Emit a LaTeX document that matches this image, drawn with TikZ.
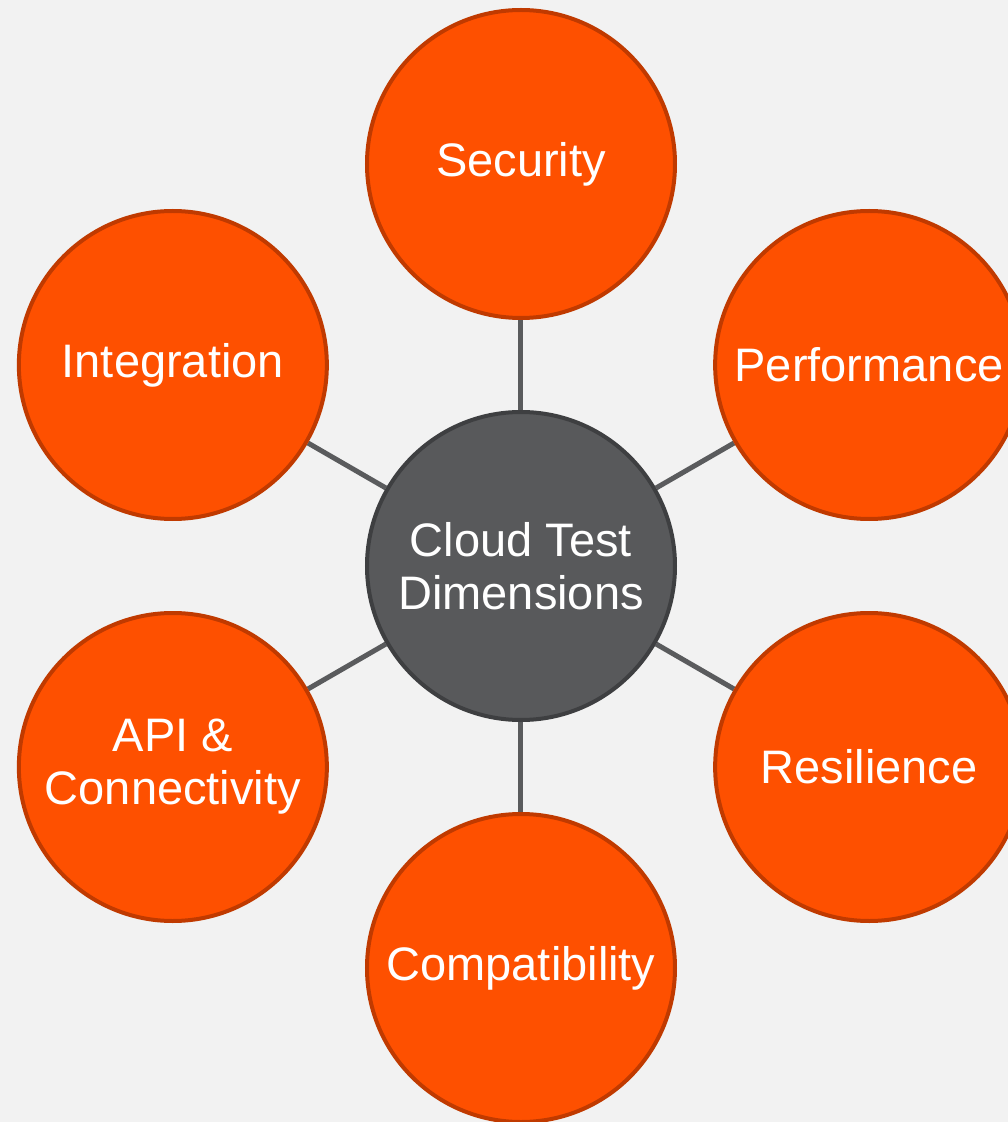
\documentclass[tikz,border=0pt]{standalone}
\usepackage{fontspec}
\setmainfont{Liberation Sans}
\usetikzlibrary{backgrounds}

\definecolor{pageGray}{HTML}{F2F2F2}
\definecolor{dimOrange}{HTML}{FE5000}
\definecolor{dimEdge}{HTML}{C03A00}
\definecolor{hubGray}{HTML}{58595B}
\definecolor{hubEdge}{HTML}{3E3F41}
\definecolor{linkGray}{HTML}{5A5B5D}

\begin{document}
\begin{tikzpicture}[
    x=1pt, y=1pt,
    dim/.style={circle, draw=dimEdge, fill=dimOrange, line width=4pt, minimum size=308pt,
        inner sep=0pt, text=white, align=center, font=\fontsize{47}{53}\selectfont},
    hub/.style={dim, draw=hubEdge, fill=hubGray},
    link/.style={draw=linkGray, line width=5pt}
]
    \useasboundingbox (-521,-556) rectangle (487,566);
    \clip (-521,-556) rectangle (487,566);
    \begin{scope}[on background layer]
        \fill[pageGray] (-521,-556) rectangle (487,566);
    \end{scope}
    \node[hub] (hub) at (0,0) {Cloud Test\\Dimensions};
    \foreach \ang/\nm/\txt in {90/sec/Security, 30/perf/Performance, -30/resil/Resilience,
                               -90/compat/Compatibility, -150/api/{API \&\\Connectivity},
                               150/integ/Integration} {
        \node[dim] (\nm) at (\ang:402) {\txt};
        \begin{scope}[on background layer]
            \draw[link] (hub) -- (\nm);
        \end{scope}
    }
\end{tikzpicture}
\end{document}
